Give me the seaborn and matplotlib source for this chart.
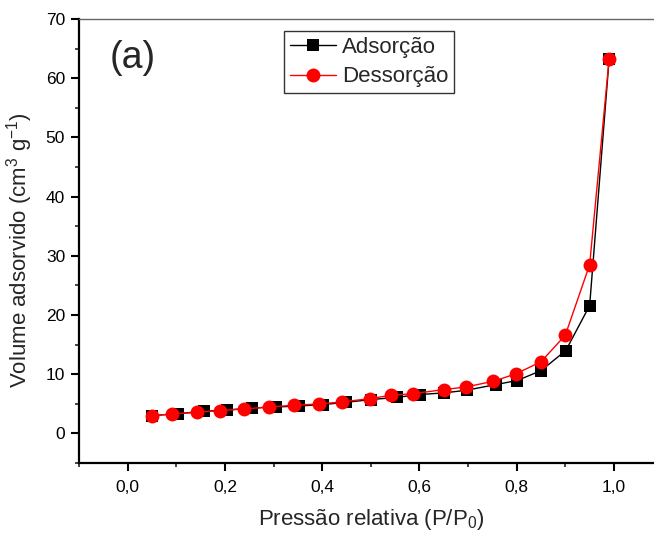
import matplotlib
matplotlib.use("Agg")
import matplotlib.pyplot as plt
from matplotlib.ticker import MultipleLocator, FuncFormatter
import seaborn as sns
import pandas as pd

# Adsorption branch
ads_x = [0.05, 0.104, 0.156, 0.204, 0.255, 0.305, 0.352, 0.401, 0.449, 0.500,
         0.554, 0.602, 0.650, 0.697, 0.757, 0.801, 0.850, 0.901, 0.950, 0.990]
ads_y = [3.0, 3.34, 3.73, 3.95, 4.29, 4.46, 4.63, 4.86, 5.25, 5.71,
         6.1, 6.57, 6.84, 7.29, 8.25, 8.93, 10.6, 14.0, 21.6, 63.2]
# Desorption branch
des_x = [0.05, 0.091, 0.142, 0.19, 0.239, 0.29, 0.342, 0.393, 0.44, 0.498,
         0.542, 0.586, 0.650, 0.695, 0.752, 0.798, 0.850, 0.900, 0.950, 0.990]
des_y = [3.0, 3.27, 3.56, 3.85, 4.12, 4.46, 4.75, 4.97, 5.3, 5.88,
         6.44, 6.7, 7.4, 7.83, 8.81, 10.05, 12.1, 16.6, 28.5, 63.2]

sns.set_style("white")
plt.rcParams['font.family'] = ['Liberation Sans', 'DejaVu Sans']
plt.rcParams['mathtext.fontset'] = 'custom'
plt.rcParams['mathtext.rm'] = 'Liberation Sans'
plt.rcParams['mathtext.it'] = 'Liberation Sans'

fig = plt.figure(figsize=(6.54, 5.36), dpi=100)
ax = fig.add_axes([79/654, 73/536, 583.6/654, 444/536])

df_a = pd.DataFrame({"x": ads_x, "y": ads_y})
df_d = pd.DataFrame({"x": des_x, "y": des_y})

sns.lineplot(data=df_a, x="x", y="y", ax=ax, sort=False, color="black",
             linewidth=1.0, marker="s", markersize=8, markeredgewidth=0,
             label="Adsorção")
sns.lineplot(data=df_d, x="x", y="y", ax=ax, sort=False, color="red",
             linewidth=1.0, marker="o", markersize=10, markeredgewidth=0,
             label="Dessorção")

ax.set_xlim(-0.1, 1.1)
ax.set_ylim(-5, 70)
ax.xaxis.set_major_locator(MultipleLocator(0.2))
ax.xaxis.set_minor_locator(MultipleLocator(0.1))
ax.yaxis.set_major_locator(MultipleLocator(10))
ax.yaxis.set_minor_locator(MultipleLocator(5))
ax.xaxis.set_major_formatter(FuncFormatter(lambda v, p: f"{v:.1f}".replace(".", ",")))
ax.yaxis.set_major_formatter(FuncFormatter(lambda v, p: f"{v:.0f}"))

ax.tick_params(axis="both", which="major", direction="out", length=6, width=1.5,
               labelsize=12.5, colors="black", bottom=True, left=True)
ax.tick_params(axis="x", which="major", pad=6)
ax.tick_params(axis="y", which="major", pad=4)
ax.tick_params(axis="both", which="minor", direction="out", length=3, width=1.2,
               bottom=True, left=True)
for s in ["left", "bottom"]:
    ax.spines[s].set_linewidth(1.6)
    ax.spines[s].set_color("black")
ax.spines["top"].set_linewidth(1.0)
ax.spines["top"].set_color("#666666")
ax.spines["right"].set_visible(False)

ax.set_xlabel("Pressão relativa (P/P$_0$)", fontsize=16, labelpad=9)
ax.set_ylabel("Volume adsorvido (cm$^3$ g$^{-1}$)", fontsize=16, labelpad=8)
ax.yaxis.label.set_y(0.48)

ax.text(0.053, 0.952, "(a)", transform=ax.transAxes, fontsize=27, va="top", ha="left")

leg = ax.legend(loc="upper left", bbox_to_anchor=(205/583.6, 1 - 12/444),
                fontsize=16, frameon=True, fancybox=False, edgecolor="black",
                borderpad=0.25, handlelength=2.1, handletextpad=0.25,
                labelspacing=0.4, borderaxespad=0)
leg.get_frame().set_linewidth(1.0)

fig.savefig("out.png", dpi=100)
